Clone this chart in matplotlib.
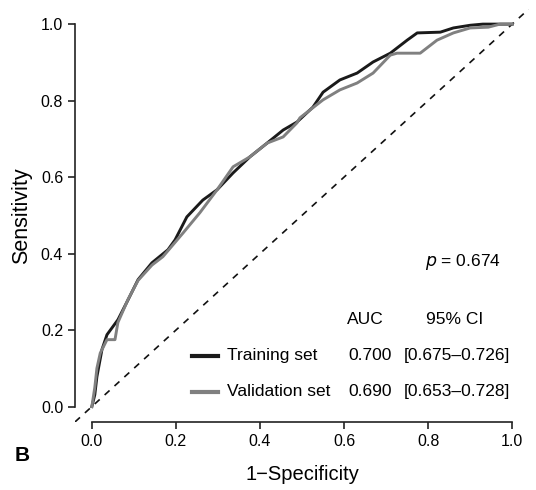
import numpy as np
import matplotlib
matplotlib.use("Agg")
import matplotlib.pyplot as plt

plt.rcParams['font.family'] = ['Liberation Sans', 'DejaVu Sans']

# ROC curve points (1-specificity, sensitivity)
train_fpr = [0.0, 0.007, 0.012, 0.024, 0.036, 0.062, 0.086, 0.110, 0.143, 0.181,
             0.198, 0.226, 0.264, 0.298, 0.336, 0.376, 0.417, 0.455, 0.488, 0.526,
             0.550, 0.590, 0.631, 0.669, 0.710, 0.750, 0.774, 0.829, 0.860, 0.900,
             0.930, 1.0]
train_tpr = [0.0, 0.031, 0.078, 0.149, 0.188, 0.227, 0.279, 0.332, 0.376, 0.410,
             0.436, 0.496, 0.540, 0.567, 0.611, 0.653, 0.689, 0.723, 0.744, 0.783,
             0.822, 0.854, 0.872, 0.901, 0.924, 0.958, 0.977, 0.979, 0.990, 0.997,
             1.0, 1.0]

valid_fpr = [0.0, 0.007, 0.012, 0.020, 0.036, 0.055, 0.062, 0.086, 0.110, 0.143,
             0.169, 0.217, 0.257, 0.298, 0.336, 0.376, 0.417, 0.455, 0.488, 0.495,
             0.550, 0.590, 0.631, 0.669, 0.710, 0.726, 0.781, 0.821, 0.860, 0.900,
             0.943, 0.971, 1.0]
valid_tpr = [0.0, 0.050, 0.100, 0.140, 0.175, 0.175, 0.220, 0.280, 0.330, 0.370,
             0.392, 0.454, 0.507, 0.567, 0.627, 0.653, 0.689, 0.705, 0.742, 0.755,
             0.802, 0.828, 0.846, 0.872, 0.919, 0.924, 0.924, 0.958, 0.977, 0.990,
             0.992, 1.0, 1.0]

set_names = ["Training set", "Validation set"]
auc_vals = ["0.700", "0.690"]
ci_vals = ["[0.675\u20130.726]", "[0.653\u20130.728]"]
p_text = "0.674"
ticks = [0.0, 0.2, 0.4, 0.6, 0.8, 1.0]

fig = plt.figure(figsize=(5.36, 4.90), dpi=100)
ax = fig.add_axes([0.140, 0.139, 0.847, 0.843])

ax.plot([-0.04, 1.04], [-0.04, 1.04], color='#111111', lw=1.2, ls=(0, (4, 4)))
ax.plot(train_fpr, train_tpr, color='#1a1a1a', lw=2.1, solid_joinstyle='round')
ax.plot(valid_fpr, valid_tpr, color='#808080', lw=2.1, solid_joinstyle='round')

ax.set_xlim(-0.04, 1.04)
ax.set_ylim(-0.04, 1.04)
for s in ['top', 'right']:
    ax.spines[s].set_visible(False)
ax.spines['left'].set_bounds(0, 1)
ax.spines['bottom'].set_bounds(0, 1)
for s in ['left', 'bottom']:
    ax.spines[s].set_linewidth(1.2)
    ax.spines[s].set_color('#222222')
ax.set_xticks(ticks)
ax.set_yticks(ticks)
ax.set_xticklabels([f"{t:.1f}" for t in ticks])
ax.set_yticklabels([f"{t:.1f}" for t in ticks])
ax.tick_params(length=5, width=1.2, labelsize=11.5, pad=3.5, color='#222222')

ax.set_xlabel("1\u2212Specificity", fontsize=14.5, labelpad=12)
ax.set_ylabel("Sensitivity", fontsize=15.5, labelpad=6)

# annotation block
fs = 12.5
ax.text(0.883, 0.379, r"$\it{p}$ = " + p_text, fontsize=fs, ha='center', va='center')
ax.text(0.65, 0.227, "AUC", fontsize=fs, ha='center', va='center')
ax.text(0.864, 0.227, "95% CI", fontsize=fs, ha='center', va='center')
rows_y = [0.133, 0.039]
colors = ['#1a1a1a', '#808080']
for i in range(2):
    y = rows_y[i]
    ax.plot([0.238, 0.300], [y, y], color=colors[i], lw=3)
    ax.text(0.321, y, set_names[i], fontsize=fs, ha='left', va='center')
    ax.text(0.61, y, auc_vals[i], fontsize=fs, ha='left', va='center')
    ax.text(0.742, y, ci_vals[i], fontsize=fs, ha='left', va='center')

fig.text(0.028, 0.07, "B", fontsize=15, fontweight='bold', ha='left', va='center')

plt.savefig("out.png", dpi=100)
